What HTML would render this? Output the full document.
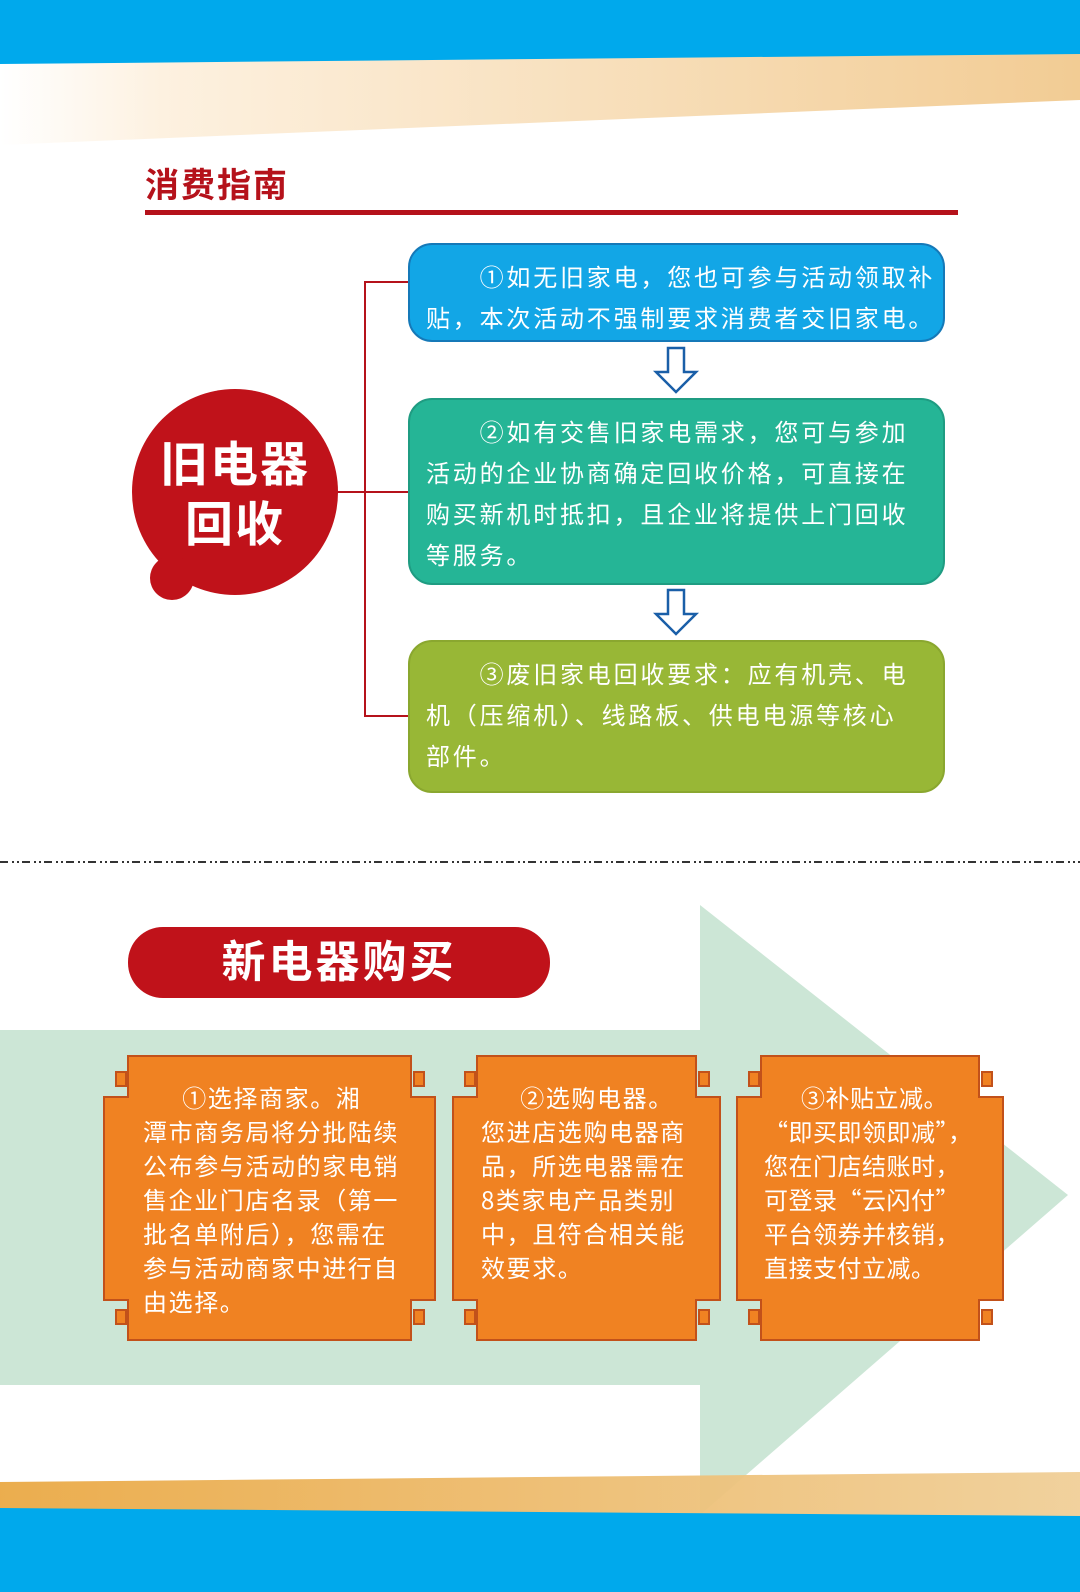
<!DOCTYPE html>
<html><head><meta charset="utf-8"><style>
body{margin:0;width:1080px;height:1592px;position:relative;overflow:hidden;background:#fff;font-family:"Liberation Sans","Noto Sans CJK SC",sans-serif}
.abs{position:absolute}
.box{position:absolute;left:408px;width:537px;border-radius:24px;color:#fff;font-family:"Noto Sans CJK SC",sans-serif;font-size:24px;line-height:41px;padding:10px 14px 0 16px;box-sizing:border-box;letter-spacing:2.8px;white-space:nowrap}
.ot{position:absolute;color:#fff;font-family:"Noto Sans CJK SC",sans-serif;font-size:24px;line-height:34px;letter-spacing:1.6px;white-space:nowrap}
</style></head><body>
<svg class="abs" style="left:0;top:0" width="1080" height="1592">
<defs>
<linearGradient id="og" x1="0" x2="1"><stop offset="0" stop-color="#fff"/><stop offset="0.15" stop-color="#fdf1e0"/><stop offset="1" stop-color="#f2cc94"/></linearGradient>
<linearGradient id="og2" x1="0" x2="1"><stop offset="0" stop-color="#eaa945"/><stop offset="1" stop-color="#f0cf98"/></linearGradient>
</defs>
<polygon points="0,62 1080,52 1080,100 0,145" fill="url(#og)"/>
<polygon points="0,0 1080,0 1080,54 0,64" fill="#00a9ec"/>
<polygon points="0,1030 700,1030 700,905 1068,1195 700,1515 700,1385 0,1385" fill="#cce6d6"/>
<polygon points="0,1482 1080,1472 1080,1520 0,1520" fill="url(#og2)" opacity="0.95"/>
<polygon points="0,1508 1080,1516 1080,1592 0,1592" fill="#00a9ec"/>
<rect x="145" y="210" width="813" height="5" fill="#b5121b"/>
<line x1="0" y1="862" x2="1080" y2="862" stroke="#333" stroke-width="2" stroke-dasharray="8,4,2,3,2,3"/>
<path d="M408,282 H365 V716 H408 M335,492 H408" stroke="#b5121b" stroke-width="2" fill="none"/>
<circle cx="235" cy="492" r="103" fill="#c0121a"/>
<circle cx="172" cy="578" r="22" fill="#c0121a"/>
<path d="M668,348 h16 v24 h12 l-20,20 l-20,-20 h12z" fill="#fff" stroke="#1a5fa8" stroke-width="2.5"/>
<path d="M668,590 h16 v24 h12 l-20,20 l-20,-20 h12z" fill="#fff" stroke="#1a5fa8" stroke-width="2.5"/>
<rect x="128" y="927" width="422" height="71" rx="35" fill="#c0121a"/>
<g fill="#f08222" stroke="#c2511a" stroke-width="2">
<path d="M128,1056 H411 V1097 H435 V1300 H411 V1340 H128 V1300 H104 V1097 H128Z"/>
<path d="M477,1056 H696 V1097 H720 V1300 H696 V1340 H477 V1300 H453 V1097 H477Z"/>
<path d="M761,1056 H979 V1097 H1003 V1300 H979 V1340 H761 V1300 H737 V1097 H761Z"/>
<rect x="116" y="1072" width="10" height="14"/><rect x="414" y="1072" width="10" height="14"/><rect x="116" y="1310" width="10" height="14"/><rect x="414" y="1310" width="10" height="14"/>
<rect x="465" y="1072" width="10" height="14"/><rect x="699" y="1072" width="10" height="14"/><rect x="465" y="1310" width="10" height="14"/><rect x="699" y="1310" width="10" height="14"/>
<rect x="749" y="1072" width="10" height="14"/><rect x="982" y="1072" width="10" height="14"/><rect x="749" y="1310" width="10" height="14"/><rect x="982" y="1310" width="10" height="14"/>
</g>
</svg>
<div class="abs" style="left:145px;top:158px;font-size:34px;font-weight:bold;color:#b5121b;letter-spacing:2px">消费指南</div>
<div class="box" style="top:243px;height:99px;background:#12a6e6;border:2px solid #1579b8">&emsp;&emsp;①如无旧家电，您也可参与活动领取补<br>贴，本次活动不强制要求消费者交旧家电。</div>
<div class="box" style="top:398px;height:187px;background:#25b596;border:2px solid #1f9c82">&emsp;&emsp;②如有交售旧家电需求，您可与参加<br>活动的企业协商确定回收价格，可直接在<br>购买新机时抵扣，且企业将提供上门回收<br>等服务。</div>
<div class="box" style="top:640px;height:153px;background:#98b736;border:2px solid #8aa72f">&emsp;&emsp;③废旧家电回收要求：应有机壳、电<br>机（压缩机）、线路板、供电电源等核心<br>部件。</div>
<div class="abs" style="left:132px;top:436px;width:206px;text-align:center;color:#fff;font-size:48px;font-weight:bold;line-height:60px;letter-spacing:2px">旧电器<br>回收</div>
<div class="abs" style="left:128px;top:927px;width:422px;text-align:center;color:#fff;font-size:44px;font-weight:bold;line-height:71px;letter-spacing:3px">新电器购买</div>
<div class="ot" style="left:143px;top:1080px">&emsp;&ensp;①选择商家。湘<br>潭市商务局将分批陆续<br>公布参与活动的家电销<br>售企业门店名录（第一<br>批名单附后），您需在<br>参与活动商家中进行自<br>由选择。</div>
<div class="ot" style="left:481px;top:1080px">&emsp;&ensp;②选购电器。<br>您进店选购电器商<br>品，所选电器需在<br>8类家电产品类别<br>中，且符合相关能<br>效要求。</div>
<div class="ot" style="left:764px;top:1080px;letter-spacing:0.5px">&emsp;&ensp;③补贴立减。<br>“即买即领即减”，<br>您在门店结账时，<br>可登录“云闪付”<br>平台领券并核销，<br>直接支付立减。</div>
</body></html>
